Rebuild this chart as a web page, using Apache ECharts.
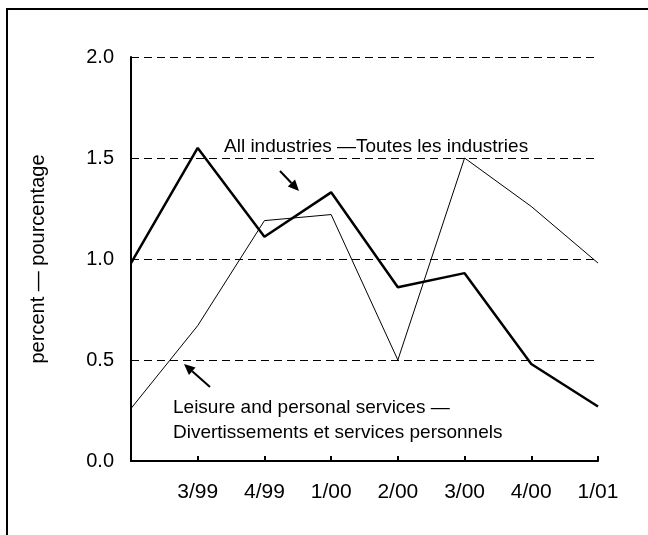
<!DOCTYPE html>
<html>
<head>
<meta charset="utf-8">
<script src="https://cdn.jsdelivr.net/npm/echarts@6/dist/echarts.min.js"></script>
<style>
  html, body {margin: 0; padding: 0; background: #fff;}
  #chart {width: 648px; height: 535px;}
</style>
</head>
<body>
<div id="chart"></div>
<script>
// quarters, first point has no label
const quarters = ['', '3/99', '4/99', '1/00', '2/00', '3/00', '4/00', '1/01'];
const allIndustries = [0.98, 1.55, 1.11, 1.33, 0.86, 0.93, 0.48, 0.27];
const leisure = [0.26, 0.67, 1.19, 1.22, 0.50, 1.50, 1.26, 0.98];
const yTicks = [0, 0.5, 1.0, 1.5, 2.0];

const font = 'Liberation Sans, Arial, sans-serif';

function arrow(x1, y1, x2, y2) {
    // line plus filled head pointing to (x2, y2)
    let ang = Math.atan2(y2 - y1, x2 - x1);
    let len = 11, half = 5;
    let bx = x2 - len * Math.cos(ang), by = y2 - len * Math.sin(ang);
    let px = -Math.sin(ang) * half, py = Math.cos(ang) * half;
    return [
        {type: 'line', shape: {x1: x1, y1: y1, x2: bx, y2: by}, style: {stroke: '#000', lineWidth: 2}},
        {type: 'polygon', shape: {points: [[x2, y2], [bx + px, by + py], [bx - px, by - py]]}, style: {fill: '#000'}}
    ];
}

let chart = echarts.init(document.getElementById('chart'));
chart.setOption({
    animation: false,
    backgroundColor: '#fff',
    grid: {left: 131, right: 50, top: 57, bottom: 74},
    xAxis: {
        type: 'category', data: quarters, boundaryGap: false,
        axisLine: {lineStyle: {color: '#000', width: 2}},
        axisTick: {inside: true, length: 5, lineStyle: {color: '#000', width: 2}},
        axisLabel: {color: '#000', fontSize: 21, fontFamily: font, margin: 21, interval: 0},
        splitLine: {show: false}
    },
    yAxis: {
        type: 'value', min: yTicks[0], max: yTicks[yTicks.length - 1], interval: 0.5,
        name: 'percent — pourcentage', nameLocation: 'middle', nameGap: 83,
        nameTextStyle: {color: '#000', fontSize: 20, fontFamily: font},
        axisLine: {show: true, lineStyle: {color: '#000', width: 2}},
        axisTick: {show: false},
        axisLabel: {color: '#000', fontSize: 20, fontFamily: font, margin: 17,
            formatter: v => v.toFixed(1)},
        splitLine: {lineStyle: {color: '#000', width: 1, type: [8, 5]}}
    },
    series: [
        {
            name: 'All industries', type: 'line', data: allIndustries,
            showSymbol: false, lineStyle: {color: '#000', width: 2.5}, z: 3
        },
        {
            name: 'Leisure', type: 'line', data: leisure,
            showSymbol: false, lineStyle: {color: '#000', width: 1}, z: 2
        }
    ],
    graphic: [
        {type: 'rect', shape: {x: 7, y: 9, width: 700, height: 600}, style: {fill: null, stroke: '#000', lineWidth: 2}, silent: true},
        {type: 'text', x: 224, y: 147, style: {text: 'All industries —Toutes les industries', fill: '#000', font: '19px ' + font, textVerticalAlign: 'middle'}},
        {type: 'text', x: 173, y: 408, style: {text: 'Leisure and personal services —', fill: '#000', font: '19px ' + font, textVerticalAlign: 'middle'}},
        {type: 'text', x: 173, y: 433, style: {text: 'Divertissements et services personnels', fill: '#000', font: '19px ' + font, textVerticalAlign: 'middle'}}
    ].concat(arrow(280, 171, 299, 191)).concat(arrow(210, 387, 184, 364))
});
</script>
</body>
</html>
